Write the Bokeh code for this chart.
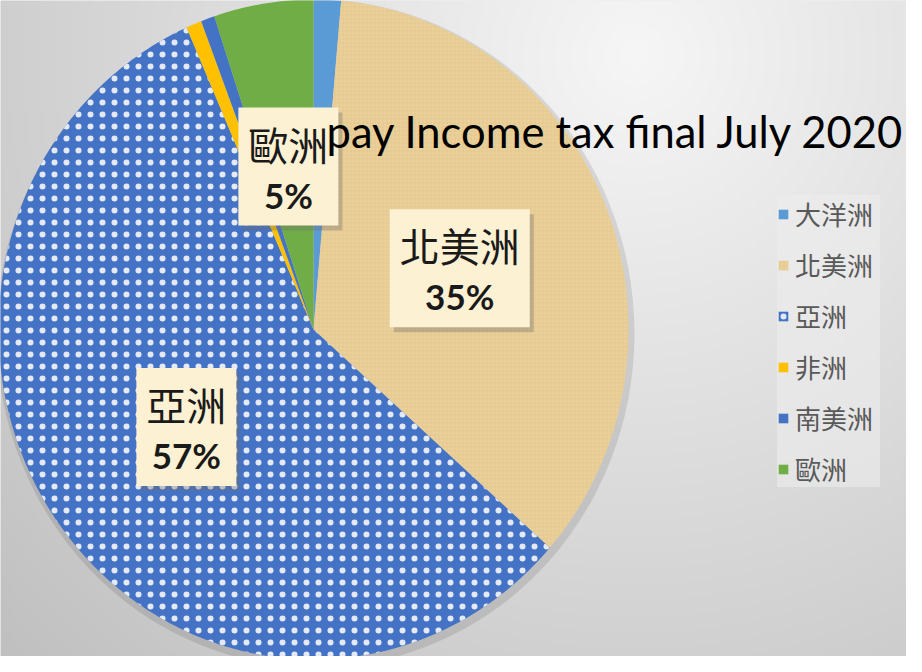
import numpy as np
from bokeh.plotting import figure
from bokeh.models import Range1d, ColumnDataSource, Legend, LegendItem, Label
from bokeh.core.properties import value
from bokeh.embed import file_html
from bokeh.resources import INLINE

# ---- data ----
categories = ["大洋洲", "北美洲", "亞洲", "非洲", "南美洲", "歐洲"]
shares = [1.4, 35.1, 56.9, 0.8, 0.7, 5.1]
title_text = "pay Income tax final July 2020"

# ---- styles ----
colors = ["#5B9BD5", "#EAD09B", "#4472C4", "#FFC000", "#4472C4", "#70AD47"]
hatch_patterns = ["blank", "cross", "dot", "blank", "blank", "blank"]
hatch_colors = ["#FFFFFF", "#C9A963", "#FFFFFF", "#FFFFFF", "#FFFFFF", "#FFFFFF"]
hatch_alphas = [0.0, 0.25, 0.85, 0.0, 0.0, 0.0]
hatch_scales = [8, 4, 12, 8, 8, 8]
hatch_weights = [1, 0.7, 1, 1, 1, 1]

W, H = 906, 656
OFF = 8
cx, cy, rx, ry = 321, 337, 315, 330

p = figure(width=W, height=H, output_backend="svg", toolbar_location=None,
           x_range=Range1d(OFF, OFF + W), y_range=Range1d(OFF + H, OFF),
           min_border=0, outline_line_color=None)
p.axis.visible = False
p.grid.visible = False
p.background_fill_color = "#e0e0e0"
p.border_fill_color = "#e0e0e0"

# background radial gradient (decoration)
step = 4
gy, gx = np.mgrid[0:H // step, 0:W // step]
px = OFF + gx * step
py = OFF + gy * step
d = np.sqrt((px - 640.0) ** 2 + (py - 60.0) ** 2)
lvl = np.clip(246 - 56 * (d / 900.0), 185, 250).astype(np.uint32)
img = (255 << 24) | (lvl << 16) | (lvl << 8) | lvl
p.image_rgba(image=[img.astype(np.uint32)], x=OFF, y=OFF, dw=W, dh=H)

# pie shadow
p.ellipse(x=cx + 2, y=cy + 4, width=2 * rx + 8, height=2 * ry + 8,
          fill_color="#000000", fill_alpha=0.10, line_color=None)

# wedges
total = float(sum(shares))
xs, ys, mids = [], [], []
acc = 0.0
for s in shares:
    a0 = acc / total * 2 * np.pi
    a1 = (acc + s) / total * 2 * np.pi
    t = np.linspace(a0, a1, max(4, int(s * 6)))
    xs.append(np.concatenate([[cx], cx + rx * np.sin(t)]))
    ys.append(np.concatenate([[cy], cy - ry * np.cos(t)]))
    mids.append((a0 + a1) / 2)
    acc += s

src = ColumnDataSource(dict(xs=xs, ys=ys, color=colors, hp=hatch_patterns,
                            hc=hatch_colors, ha=hatch_alphas, hs=hatch_scales,
                            hw=hatch_weights, name=categories))
pie = p.patches("xs", "ys", source=src, fill_color="color", line_color=None,
                hatch_pattern="hp", hatch_color="hc", hatch_alpha="ha",
                hatch_scale="hs", hatch_weight="hw")

# data labels (only slices >= 5%)
lx, ly, lname, lpct, lw = [], [], [], [], []
for i, s in enumerate(shares):
    if s >= 5:
        m = mids[i]
        lx.append(cx + 0.5 * rx * np.sin(m))
        ly.append(cy - 0.5 * ry * np.cos(m))
        lname.append(categories[i])
        lpct.append(f"{round(s / total * 100)}%")
        lw.append(40 * len(categories[i]) + 20)

lsrc = ColumnDataSource(dict(x=lx, y=ly, name=lname, pct=lpct, w=lw,
                             xs_=[v + 4 for v in lx], ys_=[v + 5 for v in ly],
                             yn=[v - 23 for v in ly], yp=[v + 28 for v in ly]))
p.rect(x="xs_", y="ys_", width="w", height=118, width_units="screen",
       height_units="screen", source=lsrc, fill_color="#6e6e6e",
       fill_alpha=0.35, line_color=None)
p.rect(x="x", y="y", width="w", height=118, width_units="screen",
       height_units="screen", source=lsrc, fill_color="#FDF1D3", line_color=None)
p.text(x="x", y="yn", text="name", source=lsrc, text_align="center",
       text_baseline="middle", text_font=value("Noto Sans CJK TC"),
       text_font_size="40px", text_color="#1a1a1a")
p.text(x="x", y="yp", text="pct", source=lsrc, text_align="center",
       text_baseline="middle", text_font=value("Lato"), text_font_style="bold",
       text_font_size="35px", text_color="#1a1a1a")

# title
p.add_layout(Label(x=334, y=138, text=title_text, text_font="Lato",
                   text_font_size="43.5px", text_baseline="alphabetic",
                   text_color="#000000"))

# legend
items = [LegendItem(label=categories[i], renderers=[pie], index=i)
         for i in range(len(categories))]
legend = Legend(items=items, location=(777, 169),
                label_text_font="Noto Sans CJK TC", label_text_font_size="26px",
                label_text_color="#595959", glyph_width=12, glyph_height=12,
                label_height=28, label_width=85, label_standoff=6, spacing=14,
                padding=10, margin=0, background_fill_color="#ececec",
                background_fill_alpha=0.6, border_line_color=None)
p.add_layout(legend, "center")

open("out.html", "w").write(file_html(p, INLINE))
